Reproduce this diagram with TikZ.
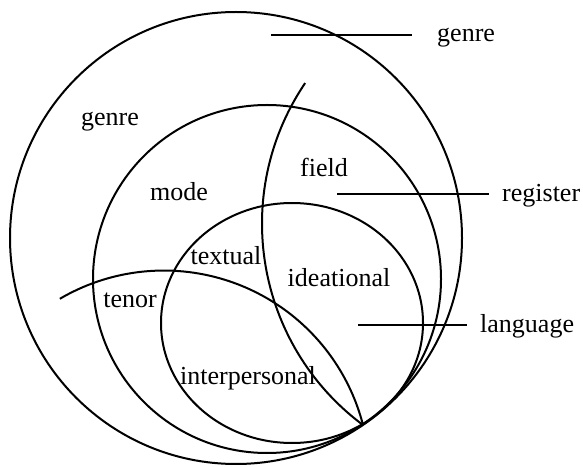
\documentclass[tikz,border=0pt]{standalone}
\usepackage{fontspec}
\setmainfont{Liberation Serif}
\usetikzlibrary{positioning,calc}

\begin{document}
\begin{tikzpicture}[
    x=1pt, y=1pt,
    every node/.style={font=\fontsize{26}{30}\selectfont, inner sep=0pt},
    ring/.style={line width=2pt},
    pointer/.style={line width=2pt}
]
\useasboundingbox (0,0) rectangle (583,466);

\coordinate (genreC) at (236,228);
\coordinate (registerC) at (267,187);
\coordinate (languageC) at (292,143);
\coordinate (meet) at (363,41);

\draw [ring] (genreC) circle [radius=226];
\draw [ring] (registerC) circle [radius=174];
\draw [ring] (languageC) ellipse [x radius=131, y radius=120];
\draw [ring] (meet) arc [start angle=233.3, end angle=145.9, radius=251];
\draw [ring] (meet) arc [start angle=14.4, end angle=120.4, radius=205.6];

\node (genreIn) at (110,344) {genre};
\node (field) at (324,299) {field};
\node (mode) at (179,274) {mode};
\node (textual) at (226,210) {textual};
\node (ideational) at (339,188) {ideational};
\node (tenor) at (130,166) {tenor};
\node (interpersonal) at (248,88) {interpersonal};
\node [anchor=west] (genreOut) at (437,428) {genre};
\node [anchor=west] (register) at (502,270) {register};
\node [anchor=west] (language) at (480,140) {language};

\coordinate (genreTip) at (271,431);
\coordinate (registerTip) at (337,272);
\coordinate (languageTip) at (358,141);
\draw [pointer, shorten >=25pt] (genreTip) -- (genreTip -| genreOut.west);
\draw [pointer, shorten >=13pt] (registerTip) -- (registerTip -| register.west);
\draw [pointer, shorten >=13pt] (languageTip) -- (languageTip -| language.west);
\end{tikzpicture}
\end{document}
